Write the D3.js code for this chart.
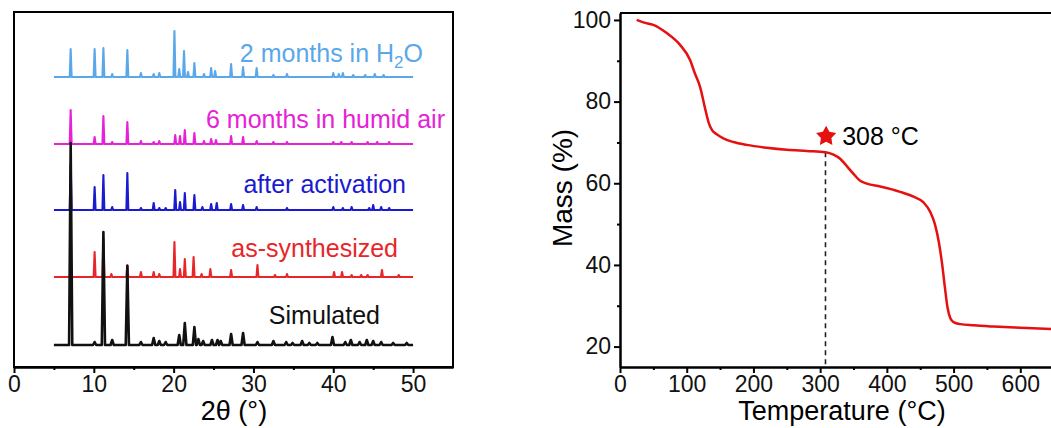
<!DOCTYPE html>
<html lang="en">
<head>
<meta charset="UTF-8">
<script src="https://d3js.org/d3.v7.min.js"></script>
<title>PXRD and TGA</title>
<style>
    body { margin: 0; background: #fff; }
    text { font-family: "Liberation Sans", Arial, sans-serif; }
</style>
</head>
<body onload="init()">
<svg id="chart" width="1051" height="428"></svg>
<script>
    // PXRD patterns: [2theta, intensity (a.u.)]
    var simulatedPeaks = [[7.1,202],[10.1,3],[11.2,113],[12.3,5],[14.2,79],[15.9,3],[17.5,7],[18.2,4],[19.0,3],
        [20.7,10],[21.4,22],[22.6,18],[23.1,6],[23.7,4],[24.8,5],[25.5,5],[25.9,4],[27.2,11],[28.7,12],[30.5,3],
        [32.5,4],[34.1,3],[34.9,2],[36.1,4],[37.0,2],[38.0,2],[39.9,8],[41.5,3],[42.2,5],[43.3,3],[44.2,5],
        [45.0,4],[46.0,3],[47.5,2],[49.2,2]];
    var synthesizedPeaks = [[7.1,10],[10.1,25],[11.2,38],[12.2,3],[14.2,12],[15.9,5],[17.5,5],[18.2,3],[20.1,35],
        [20.8,8],[21.4,18],[22.5,20],[23.5,3],[24.6,8],[27.2,7],[30.5,12],[32.7,2],[34.2,3],[40.1,5],[41.1,5],
        [42.3,2],[43.5,2],[44.3,2],[46.1,7],[48.2,2]];
    var activatedPeaks = [[7.1,46],[10.1,23],[11.2,35],[12.3,3],[14.2,37],[15.9,2],[17.5,7],[18.2,2],[19.0,2],
        [20.2,20],[20.8,8],[21.4,17],[22.6,15],[23.6,3],[24.7,6],[25.4,7],[27.2,6],[28.7,5],[30.4,3],[34.2,2],
        [40.0,3],[41.2,2],[42.3,3],[44.5,2],[45.0,5],[46.0,3],[47.0,2]];
    var humidPeaks = [[7.1,34],[10.1,7],[11.2,28],[12.3,2],[14.2,22],[15.9,3],[17.5,2],[18.2,3],[20.2,9],[20.8,8],
        [21.4,14],[22.6,11],[23.8,3],[24.7,5],[25.3,4],[27.2,8],[28.7,7],[30.4,3],[32.5,2],[34.2,2],[40.0,2],
        [41.0,2],[42.3,2],[44.3,2],[45.5,2],[47.0,2]];
    var waterPeaks = [[7.1,28],[10.1,28],[11.2,29],[12.3,3],[14.2,27],[15.9,4],[17.5,3],[18.2,4],[20.1,46],[20.7,8],
        [21.3,26],[21.8,5],[22.6,14],[23.8,3],[24.7,9],[25.2,6],[27.2,13],[28.7,10],[30.4,9],[32.5,2],[34.2,3],
        [40.0,4],[40.7,3],[41.2,4],[42.5,2],[44.0,2],[45.2,3],[46.3,2]];

    var patternNames = ["Simulated", "as-synthesized", "after activation", "6 months in humid air", "2 months in H2O"];
    var patternColors = ["#111111", "#e8262a", "#1a1ad0", "#e622d6", "#5aa7ea"];
    var patternOffsets = [22, 90, 157, 223, 290];

    var xTicksL = [0, 10, 20, 30, 40, 50];
    var xMinorL = [5, 15, 25, 35, 45];

    // TGA curve
    var tgaTemp = [25, 35, 50, 70, 90, 105, 112, 120, 128, 133, 138, 145, 155, 170, 190, 220, 250, 280, 308, 320,
        330, 340, 350, 360, 370, 390, 420, 440, 455, 465, 472, 478, 483, 487, 491, 495, 500, 510, 530, 560, 600, 650];
    var tgaMass = [100, 99.4, 98.8, 96.8, 93.9, 90.2, 87, 83.6, 78, 74.8, 73, 72, 71, 70.1, 69.4, 68.7, 68.2, 67.9, 67.6, 67.0,
        66.0, 64.2, 62.3, 60.6, 59.9, 59.2, 57.9, 56.7, 55.3, 53.0, 50.0, 45.5, 40.0, 34.5, 29.5, 27.0, 26.0, 25.5,
        25.2, 24.9, 24.6, 24.3];
    var onsetTemp = 308;
    var onsetLabel = "308 °C";
    var xTicksR = [0, 100, 200, 300, 400, 500, 600];
    var xMinorR = [50, 150, 250, 350, 450, 550, 650];
    var yTicksR = [20, 40, 60, 80, 100];
    var yMinorR = [30, 50, 70, 90];

    // fat five point star
    var fatStar = {
        draw: function(ctx, size) {
            var r = Math.sqrt(size) * 0.75, ri = r * 0.52;
            for (var k = 0; k < 10; k++) {
                var a = -Math.PI / 2 + k * Math.PI / 5;
                var rr = k % 2 ? ri : r;
                if (k == 0) ctx.moveTo(rr * Math.cos(a), rr * Math.sin(a));
                else ctx.lineTo(rr * Math.cos(a), rr * Math.sin(a));
            }
            ctx.closePath();
        }
    };

    function init() {
        var svg = d3.select("#chart");
        svg.append("rect").attr("width", 1051).attr("height", 428).attr("fill", "#fff");
        drawXRD(svg);
        drawTGA(svg);
    }

    function peakPoints(peaks, w) {
        var pts = [[5, 0]];
        peaks.forEach(function(p) {
            pts.push([p[0] - w, 0], [p[0], p[1]], [p[0] + w, 0]);
        });
        pts.push([50, 0]);
        return pts;
    }

    function drawXRD(svg) {
        var xs = d3.scaleLinear().domain([0, 55]).range([14, 453]);
        var ys = d3.scaleLinear().domain([0, 355]).range([367, 12]);
        var g = svg.append("g");

        var line = d3.line().x(d => xs(d[0])).y(d => ys(d[1]));
        var all = [simulatedPeaks, synthesizedPeaks, activatedPeaks, humidPeaks, waterPeaks];
        for (var i = all.length - 1; i >= 0; i--) {
            var off = patternOffsets[i];
            var pts = peakPoints(all[i], i == 0 ? 0.2 : 0.12).map(d => [d[0], d[1] + off]);
            g.append("path")
                .attr("d", line(pts))
                .attr("fill", "none")
                .attr("stroke", patternColors[i])
                .attr("stroke-width", i == 0 ? 2.6 : 2.1)
                .attr("stroke-linejoin", "round");
        }

        // labels
        var labelPos = [[380, 324], [398, 257], [406, 193], [445, 128], [423, 62]];
        for (var i = 0; i < patternNames.length; i++) {
            var t = g.append("text")
                .attr("x", labelPos[i][0]).attr("y", labelPos[i][1])
                .attr("text-anchor", "end")
                .attr("font-size", 25)
                .attr("fill", patternColors[i]);
            if (patternNames[i] == "2 months in H2O") {
                t.append("tspan").text("2 months in H");
                t.append("tspan").attr("font-size", 17).attr("dy", 6).text("2");
                t.append("tspan").attr("dy", -6).text("O");
            } else {
                t.text(patternNames[i]);
            }
        }

        // frame
        g.append("rect")
            .attr("x", xs(0)).attr("y", 12)
            .attr("width", xs(55) - xs(0)).attr("height", 367 - 12)
            .attr("fill", "none").attr("stroke", "#000").attr("stroke-width", 2);

        g.append("g").attr("transform", "translate(0,367)")
            .call(d3.axisBottom(xs).tickValues(xTicksL).tickSize(6).tickSizeOuter(0).tickPadding(3));
        g.append("g").attr("transform", "translate(0,367)")
            .call(d3.axisBottom(xs).tickValues(xMinorL).tickSize(3).tickSizeOuter(0).tickFormat(""));
        styleAxis(g);

        g.append("text").attr("x", 234).attr("y", 420).attr("text-anchor", "middle")
            .attr("font-size", 27).text("2θ (°)");
    }

    function drawTGA(svg) {
        var xs = d3.scaleLinear().domain([0, 700]).range([620, 1087]);
        var ys = d3.scaleLinear().domain([15, 101.7]).range([367, 13]);
        var g = svg.append("g");

        // frame top
        g.append("line").attr("x1", xs(0)).attr("x2", xs(700)).attr("y1", ys(101.7)).attr("y2", ys(101.7))
            .attr("stroke", "#000").attr("stroke-width", 2);

        g.append("g").attr("transform", "translate(0,367)")
            .call(d3.axisBottom(xs).tickValues(xTicksR).tickSize(6).tickSizeOuter(0).tickPadding(3));
        g.append("g").attr("transform", "translate(0,367)")
            .call(d3.axisBottom(xs).tickValues(xMinorR).tickSize(3).tickSizeOuter(0).tickFormat(""));
        g.append("g").attr("transform", "translate(620,0)")
            .call(d3.axisLeft(ys).tickValues(yTicksR).tickSize(6).tickSizeOuter(0).tickPadding(3));
        g.append("g").attr("transform", "translate(620,0)")
            .call(d3.axisLeft(ys).tickValues(yMinorR).tickSize(3).tickSizeOuter(0).tickFormat(""));
        styleAxis(g);

        // dashed onset line
        var onsetIdx = tgaTemp.indexOf(onsetTemp);
        g.append("line")
            .attr("x1", xs(onsetTemp)).attr("x2", xs(onsetTemp))
            .attr("y1", ys(tgaMass[onsetIdx])).attr("y2", ys(15))
            .attr("stroke", "#222").attr("stroke-width", 1.6).attr("stroke-dasharray", "5,4");

        var data = tgaTemp.map((t, i) => [t, tgaMass[i]]);
        g.append("path")
            .attr("d", d3.line().x(d => xs(d[0])).y(d => ys(d[1])).curve(d3.curveMonotoneX)(data))
            .attr("fill", "none").attr("stroke", "#e51010").attr("stroke-width", 2.5);

        g.append("path")
            .attr("d", d3.symbol().type(fatStar).size(200)())
            .attr("transform", "translate(" + xs(309) + "," + ys(71.5) + ")")
            .attr("fill", "#e51010");
        g.append("text").attr("x", xs(309) + 16).attr("y", ys(71.5) + 9)
            .attr("font-size", 25).text(onsetLabel);

        g.append("text").attr("x", 842).attr("y", 420).attr("text-anchor", "middle")
            .attr("font-size", 27).text("Temperature (°C)");
        g.append("text")
            .attr("transform", "translate(572,188) rotate(-90)")
            .attr("text-anchor", "middle").attr("font-size", 28).text("Mass (%)");
    }

    function styleAxis(g) {
        g.selectAll(".domain").attr("stroke", "#000").attr("stroke-width", 2);
        g.selectAll(".tick line").attr("stroke", "#000").attr("stroke-width", 2);
        g.selectAll(".tick text").attr("font-size", 23).attr("fill", "#111")
            .attr("font-family", "'Liberation Sans', Arial, sans-serif");
    }
</script>
</body>
</html>
